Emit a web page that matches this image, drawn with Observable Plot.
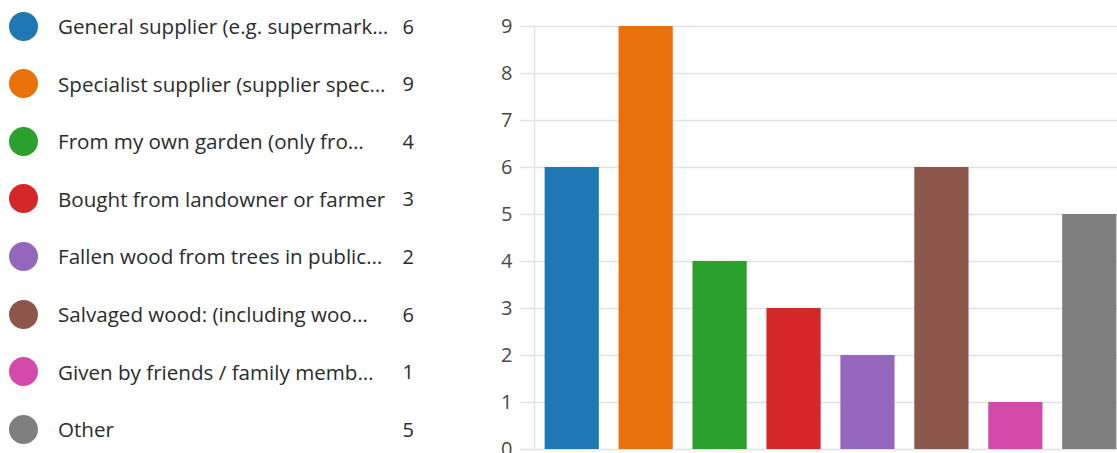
<!DOCTYPE html>
<html>
<head>
<meta charset="utf-8">
<script src="https://cdn.jsdelivr.net/npm/d3@7"></script>
<script src="https://cdn.jsdelivr.net/npm/@observablehq/plot@0.6"></script>
<style>
  body { margin: 0; background: #fff; font-family: "Open Sans", "Noto Sans", sans-serif; }
  #wrap { position: relative; width: 1117px; height: 453px; overflow: hidden; }
  #chart { position: absolute; left: 0; top: 0; }
  #legend { position: absolute; left: 0; top: 0; width: 430px; }
  .row { position: absolute; left: 0; width: 420px; height: 30px; display: flex; align-items: center; }
  .dot { position: absolute; left: 9px; width: 29px; height: 29px; border-radius: 50%; }
  .lab { position: absolute; left: 58px; font-size: 20.6px; color: #2b2b2b; white-space: nowrap; }
  .cnt { position: absolute; right: 6px; font-size: 20px; color: #2b2b2b; }
</style>
</head>
<body>
<div id="wrap">
  <div id="chart"></div>
  <div id="legend"></div>
</div>
<script>
const categories = [
  "General supplier (e.g. supermark…",
  "Specialist supplier (supplier spec…",
  "From my own garden (only fro…",
  "Bought from landowner or farmer",
  "Fallen wood from trees in public…",
  "Salvaged wood: (including woo…",
  "Given by friends / family memb…",
  "Other"
];
const counts = [6, 9, 4, 3, 2, 6, 1, 5];
const colors = ["#1f77b4", "#e8710a", "#2ca02c", "#d62728", "#9467bd", "#8c564b", "#d44aaa", "#7f7f7f"];
const yTicks = [0, 1, 2, 3, 4, 5, 6, 7, 8, 9];

const data = categories.map((c, i) => ({cat: c, value: counts[i], color: colors[i]}));

const chart = Plot.plot({
  width: 1117,
  height: 453,
  marginLeft: 534,
  marginRight: 0,
  marginTop: 26,
  marginBottom: 4,
  style: {fontFamily: '"Open Sans", "Noto Sans", sans-serif', fontSize: "20px", background: "transparent"},
  x: {domain: categories, range: [535, 1126], paddingInner: 0.267, paddingOuter: 0.13, round: false, axis: null},
  y: {domain: [0, 9], axis: null},
  marks: [
    Plot.ruleY(yTicks, {stroke: "#e2e2e2", strokeWidth: 1.5}),
    Plot.axisY(yTicks, {tickSize: 14, tickPadding: 8, stroke: "#e2e2e2", fill: "#4a4a4a", strokeWidth: 1.5, tickFormat: d => d, label: null}),
    Plot.frame({anchor: "left", stroke: "#e2e2e2", strokeWidth: 1.5}),
    Plot.barY(data, {x: "cat", y: "value", fill: "color"})
  ]
});
document.getElementById("chart").appendChild(chart);

const legend = document.getElementById("legend");
const rowTop = 26, rowStep = 57.6;
categories.forEach((c, i) => {
  const row = document.createElement("div");
  row.className = "row";
  row.style.top = (rowTop + i * rowStep - 15) + "px";
  const dot = document.createElement("div");
  dot.className = "dot";
  dot.style.background = colors[i];
  const lab = document.createElement("div");
  lab.className = "lab";
  lab.textContent = c;
  const cnt = document.createElement("div");
  cnt.className = "cnt";
  cnt.textContent = counts[i];
  row.append(dot, lab, cnt);
  legend.appendChild(row);
});
</script>
</body>
</html>
